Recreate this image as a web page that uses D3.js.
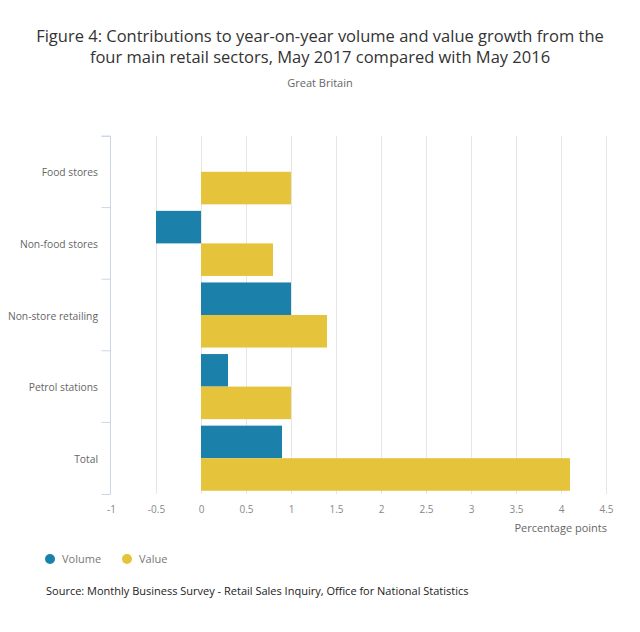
<!DOCTYPE html>
<html><head><meta charset="utf-8">
<script src="https://cdn.jsdelivr.net/npm/d3@7"></script>
<style>
body{margin:0;background:#fff;}
text{font-family:"Open Sans",sans-serif;}
</style></head>
<body><svg id="chart" width="640" height="632"></svg>
<script>
const categories = ["Food stores","Non-food stores","Non-store retailing","Petrol stations","Total"];
const volume = [0, -0.5, 1.0, 0.3, 0.9];
const value = [1.0, 0.8, 1.4, 1.0, 4.1];
const seriesNames = ["Volume","Value"];
const xTicks = [-1,-0.5,0,0.5,1,1.5,2,2.5,3,3.5,4,4.5];
const colors = ["#1b81aa","#e5c33b"];
const titleLines = ["Figure 4: Contributions to year-on-year volume and value growth from the",
                    "four main retail sectors, May 2017 compared with May 2016"];

(function(){
const svg = d3.select("#chart");
const t = svg.append("text").attr("x",320).attr("y",42).attr("text-anchor","middle")
  .attr("font-size",16.5).attr("fill","#333");
titleLines.forEach((l,i)=>t.append("tspan").attr("x",320).attr("dy",i?21:0).text(l));
svg.append("text").attr("x",320).attr("y",87).attr("text-anchor","middle")
  .attr("font-size",11).attr("fill","#666").text("Great Britain");

const pl=111, pr=606, pt=136, pb=494;
const x = d3.scaleLinear().domain([-1,4.5]).range([pl,pr]);
const y = d3.scaleBand().domain(categories).range([pt,pb]).paddingInner(0).paddingOuter(0);
const inner = d3.scaleBand().domain(seriesNames).range([0,y.bandwidth()]).paddingOuter(0.1).paddingInner(0);

// grid
svg.append("g").selectAll("line").data(xTicks.filter(d=>d>-1)).join("line")
  .attr("x1",d=>Math.round(x(d))+0.5).attr("x2",d=>Math.round(x(d))+0.5).attr("y1",pt).attr("y2",pb)
  .attr("stroke","#e6e6e6").attr("stroke-width",1);

// bars
const series = [volume, value];
series.forEach((vals,si)=>{
  svg.append("g").selectAll("rect").data(categories.map((c,i)=>({c,v:vals[i]}))).join("rect")
    .attr("x",d=>x(Math.min(0,d.v)))
    .attr("width",d=>Math.abs(x(d.v)-x(0)))
    .attr("y",d=>y(d.c)+inner(seriesNames[si]))
    .attr("height",inner.bandwidth())
    .attr("fill",colors[si]);
});

// y axis
const ya = svg.append("g").attr("transform",`translate(${pl-0.5},0)`)
  .call(d3.axisLeft(y).tickSize(9).tickFormat(""));
ya.select(".domain").attr("stroke","#ccd6eb").attr("d",`M-9,${pt+0.5}H0V${pb+0.5}H-9`);
ya.selectAll(".tick line").attr("stroke","#ccd6eb").attr("transform",`translate(0,${-y.bandwidth()/2})`);
svg.append("g").selectAll("text").data(categories).join("text")
  .attr("x",98).attr("y",d=>y(d)+y.bandwidth()/2+4.5).attr("text-anchor","end")
  .attr("font-size",10.3).attr("fill","#666").text(d=>d);

// x axis labels
const xa = svg.append("g").attr("transform",`translate(0,${pb})`)
  .call(d3.axisBottom(x).tickValues(xTicks).tickSize(0).tickPadding(12).tickFormat(d=>String(d)));
xa.select(".domain").remove();
xa.selectAll("text").attr("font-size",10).attr("fill","#888").attr("font-family","Open Sans, sans-serif");
svg.append("text").attr("x",607).attr("y",532).attr("text-anchor","end")
  .attr("font-size",11).attr("fill","#666").text("Percentage points");

// legend
const legX=[50,127];
seriesNames.forEach((n,i)=>{
  svg.append("circle").attr("cx",legX[i]).attr("cy",559).attr("r",5).attr("fill",colors[i]);
  svg.append("text").attr("x",legX[i]+12).attr("y",563).attr("font-size",11).attr("fill","#777").text(n);
});
svg.append("text").attr("x",46).attr("y",595).attr("font-size",11).attr("fill","#222")
  .text("Source: Monthly Business Survey - Retail Sales Inquiry, Office for National Statistics");
})();
</script></body></html>
